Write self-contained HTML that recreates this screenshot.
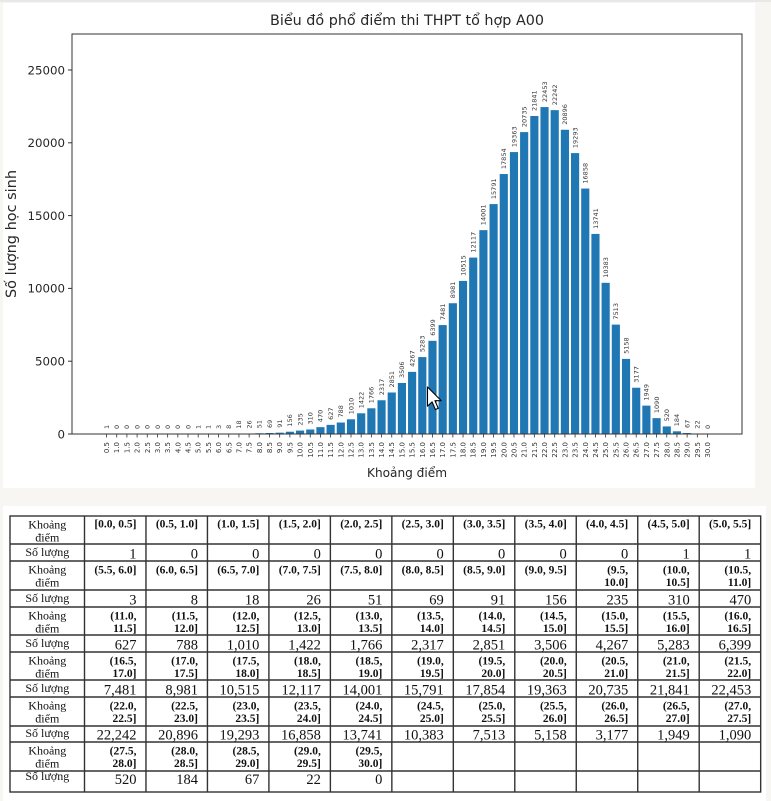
<!DOCTYPE html>
<html><head><meta charset="utf-8">
<style>
html,body{margin:0;padding:0;background:#f7f6f2;}
body{width:771px;height:801px;overflow:hidden;position:relative;}
svg{position:absolute;left:0;top:0;}
</style></head>
<body>
<svg width="771" height="801" viewBox="0 0 771 801" xmlns="http://www.w3.org/2000/svg">
<rect x="0" y="0" width="771" height="801" fill="#f7f6f2"/>
<rect x="0" y="0" width="771" height="2" fill="#e8e8e8"/>
<rect x="3" y="3" width="752" height="485" fill="#ffffff"/>
<rect x="3" y="506" width="763" height="295" fill="#ffffff"/>

<!-- CHART -->
<g font-family="'DejaVu Sans', sans-serif" fill="#262626">
<text x="270" y="25" font-size="14.3" textLength="274" lengthAdjust="spacingAndGlyphs">Biểu đồ phổ điểm thi THPT tổ hợp A00</text>
<text transform="rotate(-90)" x="-234" y="16" font-size="14" text-anchor="middle" textLength="128" lengthAdjust="spacingAndGlyphs">Số lượng học sinh</text>
<text x="367" y="477" font-size="12.2" textLength="80" lengthAdjust="spacingAndGlyphs">Khoảng điểm</text>
<g font-size="11.8" text-anchor="end">
<text x="65" y="438.3">0</text>
<text x="65" y="365.5">5000</text>
<text x="65" y="292.7">10000</text>
<text x="65" y="219.9">15000</text>
<text x="65" y="147.1">20000</text>
<text x="65" y="74.3">25000</text>
</g>
</g>
<g stroke="#333" stroke-width="1">
<line x1="68" y1="434" x2="72" y2="434"/>
<line x1="68" y1="361.2" x2="72" y2="361.2"/>
<line x1="68" y1="288.4" x2="72" y2="288.4"/>
<line x1="68" y1="215.6" x2="72" y2="215.6"/>
<line x1="68" y1="142.8" x2="72" y2="142.8"/>
<line x1="68" y1="70" x2="72" y2="70"/>
</g>

<!-- bars -->
<g transform="translate(106.53 434) scale(10.186 -0.01456)" fill="#1f77b4">
<rect x="-0.4" y="0" width="0.8" height="1"/>
<rect x="8.6" y="0" width="0.8" height="1"/>
<rect x="9.6" y="0" width="0.8" height="1"/>
<rect x="10.6" y="0" width="0.8" height="3"/>
<rect x="11.6" y="0" width="0.8" height="8"/>
<rect x="12.6" y="0" width="0.8" height="18"/>
<rect x="13.6" y="0" width="0.8" height="26"/>
<rect x="14.6" y="0" width="0.8" height="51"/>
<rect x="15.6" y="0" width="0.8" height="69"/>
<rect x="16.6" y="0" width="0.8" height="91"/>
<rect x="17.6" y="0" width="0.8" height="156"/>
<rect x="18.6" y="0" width="0.8" height="235"/>
<rect x="19.6" y="0" width="0.8" height="310"/>
<rect x="20.6" y="0" width="0.8" height="470"/>
<rect x="21.6" y="0" width="0.8" height="627"/>
<rect x="22.6" y="0" width="0.8" height="788"/>
<rect x="23.6" y="0" width="0.8" height="1010"/>
<rect x="24.6" y="0" width="0.8" height="1422"/>
<rect x="25.6" y="0" width="0.8" height="1766"/>
<rect x="26.6" y="0" width="0.8" height="2317"/>
<rect x="27.6" y="0" width="0.8" height="2851"/>
<rect x="28.6" y="0" width="0.8" height="3506"/>
<rect x="29.6" y="0" width="0.8" height="4267"/>
<rect x="30.6" y="0" width="0.8" height="5283"/>
<rect x="31.6" y="0" width="0.8" height="6399"/>
<rect x="32.6" y="0" width="0.8" height="7481"/>
<rect x="33.6" y="0" width="0.8" height="8981"/>
<rect x="34.6" y="0" width="0.8" height="10515"/>
<rect x="35.6" y="0" width="0.8" height="12117"/>
<rect x="36.6" y="0" width="0.8" height="14001"/>
<rect x="37.6" y="0" width="0.8" height="15791"/>
<rect x="38.6" y="0" width="0.8" height="17854"/>
<rect x="39.6" y="0" width="0.8" height="19363"/>
<rect x="40.6" y="0" width="0.8" height="20735"/>
<rect x="41.6" y="0" width="0.8" height="21841"/>
<rect x="42.6" y="0" width="0.8" height="22453"/>
<rect x="43.6" y="0" width="0.8" height="22242"/>
<rect x="44.6" y="0" width="0.8" height="20896"/>
<rect x="45.6" y="0" width="0.8" height="19293"/>
<rect x="46.6" y="0" width="0.8" height="16858"/>
<rect x="47.6" y="0" width="0.8" height="13741"/>
<rect x="48.6" y="0" width="0.8" height="10383"/>
<rect x="49.6" y="0" width="0.8" height="7513"/>
<rect x="50.6" y="0" width="0.8" height="5158"/>
<rect x="51.6" y="0" width="0.8" height="3177"/>
<rect x="52.6" y="0" width="0.8" height="1949"/>
<rect x="53.6" y="0" width="0.8" height="1090"/>
<rect x="54.6" y="0" width="0.8" height="520"/>
<rect x="55.6" y="0" width="0.8" height="184"/>
<rect x="56.6" y="0" width="0.8" height="67"/>
<rect x="57.6" y="0" width="0.8" height="22"/>
</g>

<!-- axes box -->
<rect x="72" y="34" width="670" height="400" fill="none" stroke="#333" stroke-width="1"/>

<!-- x tick marks -->
<g stroke="#333" stroke-width="0.8">
<path d="M106.53 434v3.5M116.72 434v3.5M126.90 434v3.5M137.09 434v3.5M147.27 434v3.5M157.46 434v3.5M167.65 434v3.5M177.83 434v3.5M188.02 434v3.5M198.20 434v3.5M208.39 434v3.5M218.58 434v3.5M228.76 434v3.5M238.95 434v3.5M249.13 434v3.5M259.32 434v3.5M269.51 434v3.5M279.69 434v3.5M289.88 434v3.5M300.06 434v3.5M310.25 434v3.5M320.44 434v3.5M330.62 434v3.5M340.81 434v3.5M350.99 434v3.5M361.18 434v3.5M371.37 434v3.5M381.55 434v3.5M391.74 434v3.5M401.92 434v3.5M412.11 434v3.5M422.30 434v3.5M432.48 434v3.5M442.67 434v3.5M452.85 434v3.5M463.04 434v3.5M473.23 434v3.5M483.41 434v3.5M493.60 434v3.5M503.78 434v3.5M513.97 434v3.5M524.16 434v3.5M534.34 434v3.5M544.53 434v3.5M554.71 434v3.5M564.90 434v3.5M575.09 434v3.5M585.27 434v3.5M595.46 434v3.5M605.64 434v3.5M615.83 434v3.5M626.02 434v3.5M636.20 434v3.5M646.39 434v3.5M656.57 434v3.5M666.76 434v3.5M676.95 434v3.5M687.13 434v3.5M697.32 434v3.5M707.50 434v3.5"/>
</g>

<!-- x tick labels -->
<g transform="rotate(-90)" font-family="'DejaVu Sans', sans-serif" font-size="7" fill="#333" text-anchor="end">
<text x="-442" y="109.0">0.5</text>
<text x="-442" y="119.2">1.0</text>
<text x="-442" y="129.4">1.5</text>
<text x="-442" y="139.6">2.0</text>
<text x="-442" y="149.8">2.5</text>
<text x="-442" y="160.0">3.0</text>
<text x="-442" y="170.2">3.5</text>
<text x="-442" y="180.3">4.0</text>
<text x="-442" y="190.5">4.5</text>
<text x="-442" y="200.7">5.0</text>
<text x="-442" y="210.9">5.5</text>
<text x="-442" y="221.1">6.0</text>
<text x="-442" y="231.3">6.5</text>
<text x="-442" y="241.5">7.0</text>
<text x="-442" y="251.6">7.5</text>
<text x="-442" y="261.8">8.0</text>
<text x="-442" y="272.0">8.5</text>
<text x="-442" y="282.2">9.0</text>
<text x="-442" y="292.4">9.5</text>
<text x="-442" y="302.6">10.0</text>
<text x="-442" y="312.8">10.5</text>
<text x="-442" y="322.9">11.0</text>
<text x="-442" y="333.1">11.5</text>
<text x="-442" y="343.3">12.0</text>
<text x="-442" y="353.5">12.5</text>
<text x="-442" y="363.7">13.0</text>
<text x="-442" y="373.9">13.5</text>
<text x="-442" y="384.1">14.0</text>
<text x="-442" y="394.2">14.5</text>
<text x="-442" y="404.4">15.0</text>
<text x="-442" y="414.6">15.5</text>
<text x="-442" y="424.8">16.0</text>
<text x="-442" y="435.0">16.5</text>
<text x="-442" y="445.2">17.0</text>
<text x="-442" y="455.4">17.5</text>
<text x="-442" y="465.5">18.0</text>
<text x="-442" y="475.7">18.5</text>
<text x="-442" y="485.9">19.0</text>
<text x="-442" y="496.1">19.5</text>
<text x="-442" y="506.3">20.0</text>
<text x="-442" y="516.5">20.5</text>
<text x="-442" y="526.7">21.0</text>
<text x="-442" y="536.8">21.5</text>
<text x="-442" y="547.0">22.0</text>
<text x="-442" y="557.2">22.5</text>
<text x="-442" y="567.4">23.0</text>
<text x="-442" y="577.6">23.5</text>
<text x="-442" y="587.8">24.0</text>
<text x="-442" y="598.0">24.5</text>
<text x="-442" y="608.1">25.0</text>
<text x="-442" y="618.3">25.5</text>
<text x="-442" y="628.5">26.0</text>
<text x="-442" y="638.7">26.5</text>
<text x="-442" y="648.9">27.0</text>
<text x="-442" y="659.1">27.5</text>
<text x="-442" y="669.3">28.0</text>
<text x="-442" y="679.4">28.5</text>
<text x="-442" y="689.6">29.0</text>
<text x="-442" y="699.8">29.5</text>
<text x="-442" y="710.0">30.0</text>
</g>

<!-- bar value labels -->
<g transform="rotate(-90)" font-family="'DejaVu Sans', sans-serif" font-size="6.5" fill="#3a3a3a">
<text x="-429" y="108.8">1</text>
<text x="-429" y="119.0">0</text>
<text x="-429" y="129.2">0</text>
<text x="-429" y="139.4">0</text>
<text x="-429" y="149.6">0</text>
<text x="-429" y="159.8">0</text>
<text x="-429" y="169.9">0</text>
<text x="-429" y="180.1">0</text>
<text x="-429" y="190.3">0</text>
<text x="-429" y="200.5">1</text>
<text x="-429" y="210.7">1</text>
<text x="-429" y="220.9">3</text>
<text x="-428.9" y="231.1">8</text>
<text x="-428.7" y="241.2">18</text>
<text x="-428.6" y="251.4">26</text>
<text x="-428.3" y="261.6">51</text>
<text x="-428.0" y="271.8">69</text>
<text x="-427.7" y="282.0">91</text>
<text x="-426.7" y="292.2">156</text>
<text x="-425.6" y="302.4">235</text>
<text x="-424.5" y="312.5">310</text>
<text x="-422.2" y="322.7">470</text>
<text x="-419.9" y="332.9">627</text>
<text x="-417.5" y="343.1">788</text>
<text x="-414.3" y="353.3">1010</text>
<text x="-408.3" y="363.5">1422</text>
<text x="-403.3" y="373.7">1766</text>
<text x="-395.3" y="383.9">2317</text>
<text x="-387.5" y="394.0">2851</text>
<text x="-378.0" y="404.2">3506</text>
<text x="-366.9" y="414.4">4267</text>
<text x="-352.1" y="424.6">5283</text>
<text x="-335.8" y="434.8">6399</text>
<text x="-320.1" y="445.0">7481</text>
<text x="-298.2" y="455.2">8981</text>
<text x="-275.9" y="465.3">10515</text>
<text x="-252.6" y="475.5">12117</text>
<text x="-225.2" y="485.7">14001</text>
<text x="-199.1" y="495.9">15791</text>
<text x="-169.1" y="506.1">17854</text>
<text x="-147.1" y="516.3">19363</text>
<text x="-127.1" y="526.5">20735</text>
<text x="-111.0" y="536.6">21841</text>
<text x="-102.1" y="546.8">22453</text>
<text x="-105.2" y="557.0">22242</text>
<text x="-124.8" y="567.2">20896</text>
<text x="-148.1" y="577.4">19293</text>
<text x="-183.6" y="587.6">16858</text>
<text x="-228.9" y="597.8">13741</text>
<text x="-277.8" y="607.9">10383</text>
<text x="-319.6" y="618.1">7513</text>
<text x="-353.9" y="628.3">5158</text>
<text x="-382.7" y="638.5">3177</text>
<text x="-400.6" y="648.7">1949</text>
<text x="-413.1" y="658.9">1090</text>
<text x="-421.4" y="669.1">520</text>
<text x="-426.3" y="679.2">184</text>
<text x="-428.0" y="689.4">67</text>
<text x="-428.7" y="699.6">22</text>
<text x="-429" y="709.8">0</text>
</g>

<!-- mouse cursor -->
<g transform="translate(427.5 387) scale(1.2)">
<path d="M0 0 L0 16 L3.8 12.4 L6.6 18.8 L9 17.8 L6.2 11.4 L11.4 11.4 Z" fill="#fff" stroke="#000" stroke-width="0.9" stroke-linejoin="round"/>
</g>

<!-- TABLE grid -->
<g stroke="#333" stroke-width="1.4" fill="none">
<rect x="10" y="516" width="750.67" height="276"/>
<path d="M10 544H760.67M10 561H760.67M10 590H760.67M10 607H760.67M10 635H760.67M10 652H760.67M10 680H760.67M10 697H760.67M10 726H760.67M10 742H760.67M10 771H760.67"/>
<path d="M84.5 516V792M145.97 516V792M207.44 516V792M268.91 516V792M330.38 516V792M391.85 516V792M453.32 516V792M514.79 516V792M576.26 516V792M637.73 516V792M699.2 516V792"/>
</g>

<g font-family="'Liberation Serif', serif" fill="#111">
<!-- first column -->
<g font-size="12" text-anchor="middle">
<text x="47.3" y="528.5">Khoảng</text><text x="47.3" y="541.5">điểm</text>
<text x="47.3" y="556">Số lượng</text>
<text x="47.3" y="573.5">Khoảng</text><text x="47.3" y="586.5">điểm</text>
<text x="47.3" y="602">Số lượng</text>
<text x="47.3" y="619.5">Khoảng</text><text x="47.3" y="632.5">điểm</text>
<text x="47.3" y="647">Số lượng</text>
<text x="47.3" y="664.5">Khoảng</text><text x="47.3" y="677.5">điểm</text>
<text x="47.3" y="692">Số lượng</text>
<text x="47.3" y="709.5">Khoảng</text><text x="47.3" y="722.5">điểm</text>
<text x="47.3" y="737">Số lượng</text>
<text x="47.3" y="754.5">Khoảng</text><text x="47.3" y="767.5">điểm</text>
<text x="47.3" y="780">Số lượng</text>
</g>

<!-- header rows -->
<g font-size="11.5" font-weight="bold" text-anchor="end">
<text x="136.5" y="527.5">[0.0, 0.5]</text>
<text x="198" y="527.5">(0.5, 1.0]</text>
<text x="259.4" y="527.5">(1.0, 1.5]</text>
<text x="320.9" y="527.5">(1.5, 2.0]</text>
<text x="382.4" y="527.5">(2.0, 2.5]</text>
<text x="443.8" y="527.5">(2.5, 3.0]</text>
<text x="505.3" y="527.5">(3.0, 3.5]</text>
<text x="566.8" y="527.5">(3.5, 4.0]</text>
<text x="628.2" y="527.5">(4.0, 4.5]</text>
<text x="689.7" y="527.5">(4.5, 5.0]</text>
<text x="751.2" y="527.5">(5.0, 5.5]</text>

<text x="136.5" y="573.5">(5.5, 6.0]</text>
<text x="198" y="573.5">(6.0, 6.5]</text>
<text x="259.4" y="573.5">(6.5, 7.0]</text>
<text x="320.9" y="573.5">(7.0, 7.5]</text>
<text x="382.4" y="573.5">(7.5, 8.0]</text>
<text x="443.8" y="573.5">(8.0, 8.5]</text>
<text x="505.3" y="573.5">(8.5, 9.0]</text>
<text x="566.8" y="573.5">(9.0, 9.5]</text>
<text x="628.2" y="573.5">(9.5,</text><text x="628.2" y="586">10.0]</text>
<text x="689.7" y="573.5">(10.0,</text><text x="689.7" y="586">10.5]</text>
<text x="751.2" y="573.5">(10.5,</text><text x="751.2" y="586">11.0]</text>

<text x="136.5" y="619.5">(11.0,</text><text x="136.5" y="632">11.5]</text>
<text x="198" y="619.5">(11.5,</text><text x="198" y="632">12.0]</text>
<text x="259.4" y="619.5">(12.0,</text><text x="259.4" y="632">12.5]</text>
<text x="320.9" y="619.5">(12.5,</text><text x="320.9" y="632">13.0]</text>
<text x="382.4" y="619.5">(13.0,</text><text x="382.4" y="632">13.5]</text>
<text x="443.8" y="619.5">(13.5,</text><text x="443.8" y="632">14.0]</text>
<text x="505.3" y="619.5">(14.0,</text><text x="505.3" y="632">14.5]</text>
<text x="566.8" y="619.5">(14.5,</text><text x="566.8" y="632">15.0]</text>
<text x="628.2" y="619.5">(15.0,</text><text x="628.2" y="632">15.5]</text>
<text x="689.7" y="619.5">(15.5,</text><text x="689.7" y="632">16.0]</text>
<text x="751.2" y="619.5">(16.0,</text><text x="751.2" y="632">16.5]</text>

<text x="136.5" y="664.5">(16.5,</text><text x="136.5" y="677">17.0]</text>
<text x="198" y="664.5">(17.0,</text><text x="198" y="677">17.5]</text>
<text x="259.4" y="664.5">(17.5,</text><text x="259.4" y="677">18.0]</text>
<text x="320.9" y="664.5">(18.0,</text><text x="320.9" y="677">18.5]</text>
<text x="382.4" y="664.5">(18.5,</text><text x="382.4" y="677">19.0]</text>
<text x="443.8" y="664.5">(19.0,</text><text x="443.8" y="677">19.5]</text>
<text x="505.3" y="664.5">(19.5,</text><text x="505.3" y="677">20.0]</text>
<text x="566.8" y="664.5">(20.0,</text><text x="566.8" y="677">20.5]</text>
<text x="628.2" y="664.5">(20.5,</text><text x="628.2" y="677">21.0]</text>
<text x="689.7" y="664.5">(21.0,</text><text x="689.7" y="677">21.5]</text>
<text x="751.2" y="664.5">(21.5,</text><text x="751.2" y="677">22.0]</text>

<text x="136.5" y="709.5">(22.0,</text><text x="136.5" y="722">22.5]</text>
<text x="198" y="709.5">(22.5,</text><text x="198" y="722">23.0]</text>
<text x="259.4" y="709.5">(23.0,</text><text x="259.4" y="722">23.5]</text>
<text x="320.9" y="709.5">(23.5,</text><text x="320.9" y="722">24.0]</text>
<text x="382.4" y="709.5">(24.0,</text><text x="382.4" y="722">24.5]</text>
<text x="443.8" y="709.5">(24.5,</text><text x="443.8" y="722">25.0]</text>
<text x="505.3" y="709.5">(25.0,</text><text x="505.3" y="722">25.5]</text>
<text x="566.8" y="709.5">(25.5,</text><text x="566.8" y="722">26.0]</text>
<text x="628.2" y="709.5">(26.0,</text><text x="628.2" y="722">26.5]</text>
<text x="689.7" y="709.5">(26.5,</text><text x="689.7" y="722">27.0]</text>
<text x="751.2" y="709.5">(27.0,</text><text x="751.2" y="722">27.5]</text>

<text x="136.5" y="754.5">(27.5,</text><text x="136.5" y="767">28.0]</text>
<text x="198" y="754.5">(28.0,</text><text x="198" y="767">28.5]</text>
<text x="259.4" y="754.5">(28.5,</text><text x="259.4" y="767">29.0]</text>
<text x="320.9" y="754.5">(29.0,</text><text x="320.9" y="767">29.5]</text>
<text x="382.4" y="754.5">(29.5,</text><text x="382.4" y="767">30.0]</text>
</g>

<!-- number rows -->
<g font-size="14.5" text-anchor="end">
<text x="136.5" y="558.5">1</text>
<text x="198" y="558.5">0</text>
<text x="259.4" y="558.5">0</text>
<text x="320.9" y="558.5">0</text>
<text x="382.4" y="558.5">0</text>
<text x="443.8" y="558.5">0</text>
<text x="505.3" y="558.5">0</text>
<text x="566.8" y="558.5">0</text>
<text x="628.2" y="558.5">0</text>
<text x="689.7" y="558.5">1</text>
<text x="751.2" y="558.5">1</text>

<text x="136.5" y="604.5">3</text>
<text x="198" y="604.5">8</text>
<text x="259.4" y="604.5">18</text>
<text x="320.9" y="604.5">26</text>
<text x="382.4" y="604.5">51</text>
<text x="443.8" y="604.5">69</text>
<text x="505.3" y="604.5">91</text>
<text x="566.8" y="604.5">156</text>
<text x="628.2" y="604.5">235</text>
<text x="689.7" y="604.5">310</text>
<text x="751.2" y="604.5">470</text>

<text x="136.5" y="649.5">627</text>
<text x="198" y="649.5">788</text>
<text x="259.4" y="649.5">1,010</text>
<text x="320.9" y="649.5">1,422</text>
<text x="382.4" y="649.5">1,766</text>
<text x="443.8" y="649.5">2,317</text>
<text x="505.3" y="649.5">2,851</text>
<text x="566.8" y="649.5">3,506</text>
<text x="628.2" y="649.5">4,267</text>
<text x="689.7" y="649.5">5,283</text>
<text x="751.2" y="649.5">6,399</text>

<text x="136.5" y="694.5">7,481</text>
<text x="198" y="694.5">8,981</text>
<text x="259.4" y="694.5">10,515</text>
<text x="320.9" y="694.5">12,117</text>
<text x="382.4" y="694.5">14,001</text>
<text x="443.8" y="694.5">15,791</text>
<text x="505.3" y="694.5">17,854</text>
<text x="566.8" y="694.5">19,363</text>
<text x="628.2" y="694.5">20,735</text>
<text x="689.7" y="694.5">21,841</text>
<text x="751.2" y="694.5">22,453</text>

<text x="136.5" y="739.5">22,242</text>
<text x="198" y="739.5">20,896</text>
<text x="259.4" y="739.5">19,293</text>
<text x="320.9" y="739.5">16,858</text>
<text x="382.4" y="739.5">13,741</text>
<text x="443.8" y="739.5">10,383</text>
<text x="505.3" y="739.5">7,513</text>
<text x="566.8" y="739.5">5,158</text>
<text x="628.2" y="739.5">3,177</text>
<text x="689.7" y="739.5">1,949</text>
<text x="751.2" y="739.5">1,090</text>

<text x="136.5" y="784">520</text>
<text x="198" y="784">184</text>
<text x="259.4" y="784">67</text>
<text x="320.9" y="784">22</text>
<text x="382.4" y="784">0</text>
</g>
</g>
</svg>
</body></html>
